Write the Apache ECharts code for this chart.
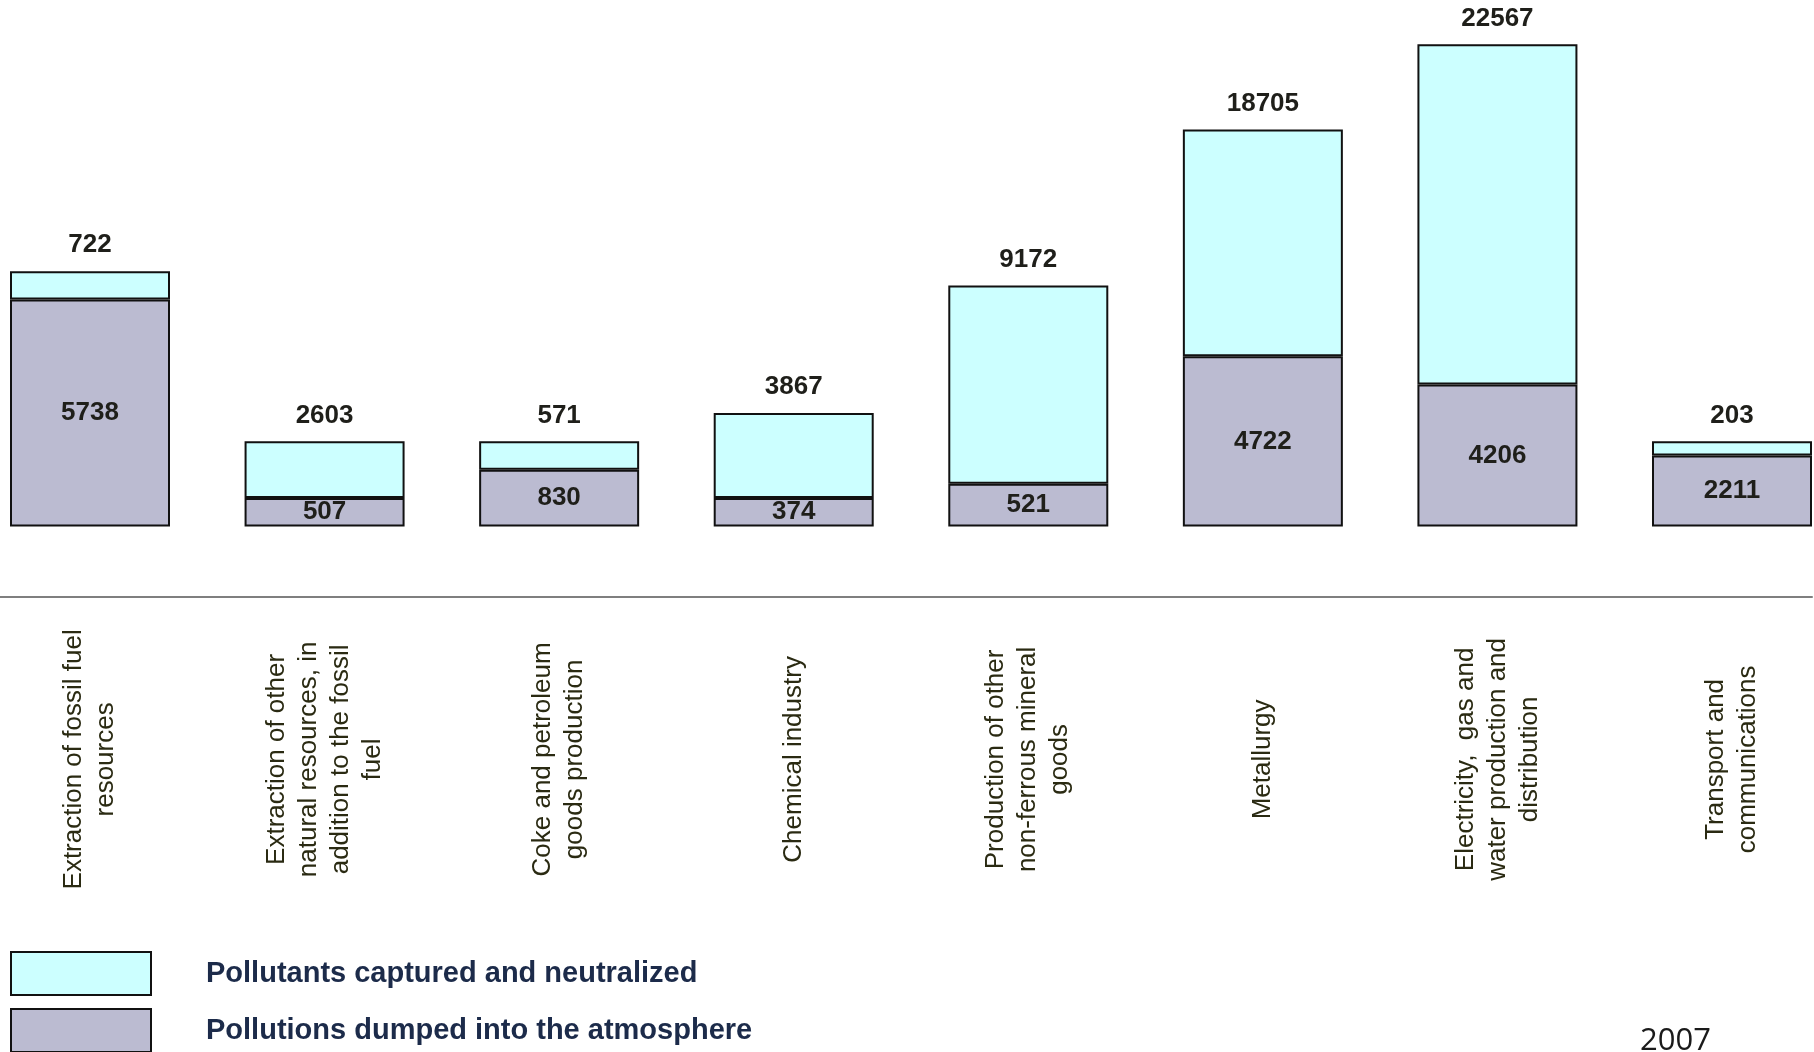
<!DOCTYPE html>
<html>
<head>
<meta charset="utf-8">
<script src="https://cdn.jsdelivr.net/npm/echarts@6/dist/echarts.min.js"></script>
<style>
html,body{margin:0;padding:0;background:#fff;}
#chart{width:1814px;height:1052px;}
</style>
</head>
<body>
<div id="chart"></div>
<script>
// Categories (industries)
const categories = [
  "Extraction of fossil fuel\nresources",
  "Extraction of other\nnatural resources, in\naddition to the fossil\nfuel",
  "Coke and petroleum\ngoods production",
  "Chemical industry",
  "Production of other\nnon-ferrous mineral\ngoods",
  "Metallurgy",
  "Electricity,  gas and\nwater production and\ndistribution",
  "Transport and\ncommunications"
];
// Values printed on the chart
const capturedValues = [722, 2603, 571, 3867, 9172, 18705, 22567, 203];
const dumpedValues   = [5738, 507, 830, 374, 521, 4722, 4206, 2211];
// The source figure is not drawn to scale: bar segment heights as drawn (in block units)
const capturedDrawnHeight = [1, 2, 1, 3, 7, 8, 12, 0.5];
const dumpedDrawnHeight   = [8, 1, 2, 1, 1.5, 6, 5, 2.5];
const seriesNames = ["Pollutants captured and neutralized", "Pollutions dumped into the atmosphere"];
const yearLabel = "2007";

const chart = echarts.init(document.getElementById('chart'));
const FONT = "'Liberation Sans', Arial, sans-serif";
const valueLabel = {
  fontFamily: FONT, fontWeight: 'bold', fontSize: 26, color: '#1f1f1a'
};
const legendCommon = {
  orient: 'vertical', left: 10, padding: 0,
  itemWidth: 140, itemHeight: 43, icon: 'rect',
  itemStyle: { borderColor: '#111', borderWidth: 2 },
  textStyle: { fontFamily: FONT, fontWeight: 'bold', fontSize: 29, color: '#1c2b4a', padding: [0, 0, 0, 50] }
};
chart.setOption({
  animation: false,
  backgroundColor: '#ffffff',
  title: {
    text: yearLabel, left: 1640, top: 1026, padding: 0,
    textStyle: { fontFamily: "'Open Sans', sans-serif", fontWeight: 'normal', fontSize: 31, color: '#1a1a1a' }
  },
  legend: [
    Object.assign({ top: 951, data: [seriesNames[0]] }, legendCommon),
    Object.assign({ top: 1008, data: [seriesNames[1]] }, legendCommon)
  ],
  grid: [
    { left: 90, right: 82, top: 16, bottom: 525.6, containLabel: false },
    { left: 0, right: 2, top: 500, bottom: 455 }
  ],
  xAxis: [
    {
      type: 'category', gridIndex: 0, data: categories, boundaryGap: false,
      axisLine: { show: false }, axisTick: { show: false },
      axisLabel: {
        interval: 0, rotate: 90, margin: 233, align: 'center', verticalAlign: 'middle',
        fontFamily: FONT, fontSize: 26, lineHeight: 32, color: '#2a2a12'
      }
    },
    {
      type: 'value', gridIndex: 1, min: 0, max: 1,
      axisLine: { show: true, lineStyle: { color: '#7f7f7f', width: 2 } },
      axisTick: { show: false }, axisLabel: { show: false }, splitLine: { show: false }
    }
  ],
  yAxis: [
    { type: 'value', gridIndex: 0, min: 0, max: 18, show: false },
    { type: 'value', gridIndex: 1, min: 0, max: 1, show: false }
  ],
  series: [
    {
      name: seriesNames[1], type: 'bar', stack: 'total', barWidth: 160, clip: false,
      xAxisIndex: 0, yAxisIndex: 0,
      itemStyle: { color: '#bbbbd1', borderColor: '#111', borderWidth: 2 },
      label: Object.assign({ show: true, position: 'inside',
        formatter: p => String(dumpedValues[p.dataIndex]) }, valueLabel),
      data: dumpedDrawnHeight
    },
    {
      name: seriesNames[0], type: 'bar', stack: 'total', barWidth: 160, clip: false,
      xAxisIndex: 0, yAxisIndex: 0,
      itemStyle: { color: '#ccffff', borderColor: '#111', borderWidth: 2 },
      label: Object.assign({ show: true, position: 'top', distance: 13,
        formatter: p => String(capturedValues[p.dataIndex]) }, valueLabel),
      data: capturedDrawnHeight
    }
  ]
});
</script>
</body>
</html>
